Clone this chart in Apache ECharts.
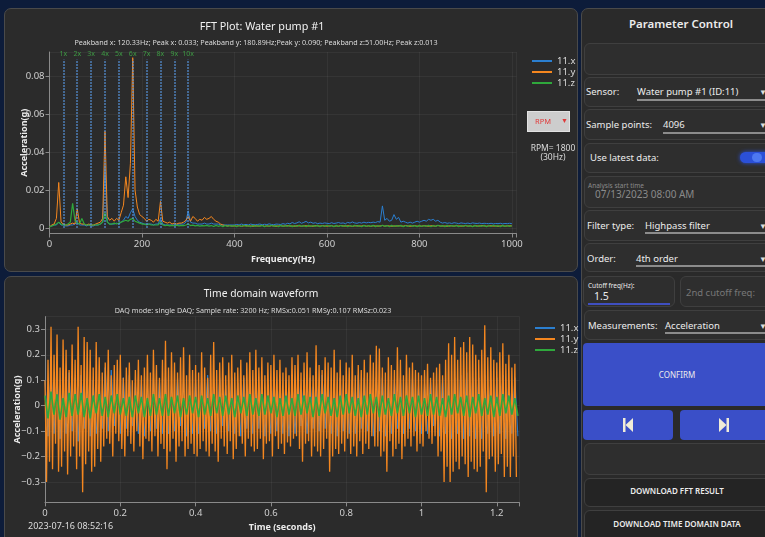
<!DOCTYPE html>
<html><head><meta charset="utf-8">
<script src="https://cdn.jsdelivr.net/npm/echarts@6/dist/echarts.min.js"></script>
<style>
html,body{margin:0;padding:0;}
body{width:765px;height:537px;overflow:hidden;background:#0d1c3a;position:relative;font-family:"Noto Sans",sans-serif;color:#ececec;}
.card{position:absolute;background:#2b2b2b;border:1px solid #4a4a4a;border-radius:7px;box-sizing:border-box;}
.box{position:absolute;background:#2e2e2e;border:1px solid #3f3f3f;border-radius:6px;box-sizing:border-box;}
.lbl{position:absolute;font-size:9.5px;color:#ececec;white-space:nowrap;line-height:12px;}
.ul{position:absolute;height:1.5px;background:#8c8c8c;}
.btn{position:absolute;background:#3a4fc8;border-radius:4px;box-sizing:border-box;}
.arr{position:absolute;font-size:8px;color:#ddd;line-height:10px;}
#chart{position:absolute;left:0;top:0;width:580px;height:537px;z-index:2;}
.top{z-index:3;}
</style></head>
<body>
<div class="card" style="left:4px;top:8px;width:574px;height:264px;"></div>
<div class="card" style="left:4px;top:276px;width:574px;height:270px;"></div>
<div class="card" style="left:581px;top:8px;width:200px;height:540px;background:#2a2a2a;"></div>

<div class="lbl" style="left:581px;top:18px;width:200px;text-align:center;font-size:11.5px;font-weight:600;">Parameter Control</div>
<div class="box" style="left:584px;top:43px;width:190px;height:32px;"></div>

<div class="box" style="left:584px;top:77px;width:190px;height:30px;"></div>
<div class="lbl" style="left:586px;top:86px;">Sensor:</div>
<div class="lbl" style="left:637px;top:86px;">Water pump #1 (ID:11)</div>
<div class="ul" style="left:637px;top:99px;width:140px;"></div>
<div class="arr" style="left:759px;top:87px;">▼</div>

<div class="box" style="left:584px;top:109px;width:190px;height:31px;"></div>
<div class="lbl" style="left:586px;top:119px;">Sample points:</div>
<div class="lbl" style="left:663px;top:119px;">4096</div>
<div class="ul" style="left:663px;top:132px;width:120px;"></div>
<div class="arr" style="left:759px;top:120px;">▼</div>

<div class="box" style="left:584px;top:143px;width:190px;height:30px;"></div>
<div class="lbl" style="left:590px;top:152px;">Use latest data:</div>
<div style="position:absolute;left:740px;top:152px;width:32px;height:11px;border-radius:6px;background:#2b50d8;box-shadow:0 0 4px #2b50d8;"></div>
<div style="position:absolute;left:752px;top:153px;width:10px;height:9px;border-radius:5px;background:#4d78f0;"></div>

<div class="box" style="left:584px;top:176px;width:190px;height:32px;"></div>
<div class="lbl" style="left:588px;top:180px;font-size:6.5px;color:#8a8a8a;">Analysis start time</div>
<div class="lbl" style="left:595px;top:188px;font-size:10px;color:#8a8a8a;">07/13/2023 08:00 AM</div>

<div class="box" style="left:584px;top:210px;width:190px;height:31px;"></div>
<div class="lbl" style="left:587px;top:220px;">Filter type:</div>
<div class="lbl" style="left:645px;top:220px;">Highpass filter</div>
<div class="ul" style="left:645px;top:232px;width:130px;"></div>
<div class="arr" style="left:759px;top:221px;">▼</div>

<div class="box" style="left:584px;top:243px;width:190px;height:29px;"></div>
<div class="lbl" style="left:587px;top:253px;">Order:</div>
<div class="lbl" style="left:636px;top:253px;">4th order</div>
<div class="ul" style="left:636px;top:265px;width:140px;"></div>
<div class="arr" style="left:759px;top:254px;">▼</div>

<div class="box" style="left:583px;top:276px;width:92px;height:31px;"></div>
<div class="lbl" style="left:588px;top:280px;font-size:6.5px;">Cutoff freq(Hz):</div>
<div class="lbl" style="left:594px;top:290px;font-size:10.5px;">1.5</div>
<div style="position:absolute;left:588px;top:303px;width:82px;height:1.5px;background:#3f4fc0;"></div>
<div class="box" style="left:680px;top:276px;width:100px;height:31px;"></div>
<div class="lbl" style="left:686px;top:287px;color:#777;">2nd cutoff freq:</div>

<div class="box" style="left:584px;top:310px;width:190px;height:30px;"></div>
<div class="lbl" style="left:588px;top:320px;">Measurements:</div>
<div class="lbl" style="left:665px;top:320px;">Acceleration</div>
<div class="ul" style="left:665px;top:332px;width:120px;"></div>
<div class="arr" style="left:759px;top:321px;">▼</div>

<div class="btn" style="left:583px;top:343px;width:190px;height:63px;"></div>
<div class="lbl" style="left:583px;top:369px;width:188px;text-align:center;font-size:8px;">CONFIRM</div>

<div class="btn" style="left:583px;top:410px;width:90px;height:30px;"></div>
<svg style="position:absolute;left:623px;top:418px;" width="10" height="14" viewBox="0 0 10 14"><rect x="0" y="0" width="2.5" height="14" fill="#f0ecd8"/><polygon points="10,0 2.5,7 10,14" fill="#f0ecd8"/></svg>
<div class="btn" style="left:680px;top:410px;width:100px;height:30px;"></div>
<svg style="position:absolute;left:719px;top:418px;" width="10" height="14" viewBox="0 0 10 14"><polygon points="0,0 7.5,7 0,14" fill="#f0ecd8"/><rect x="7.5" y="0" width="2.5" height="14" fill="#f0ecd8"/></svg>

<div class="box" style="left:584px;top:443px;width:190px;height:32px;"></div>
<div class="box" style="left:584px;top:478px;width:190px;height:29px;background:#242424;"></div>
<div class="lbl" style="left:584px;top:485px;width:186px;text-align:center;font-size:8px;font-weight:600;">DOWNLOAD FFT RESULT</div>
<div class="box" style="left:584px;top:510px;width:190px;height:32px;background:#242424;"></div>
<div class="lbl" style="left:584px;top:518px;width:186px;text-align:center;font-size:8px;font-weight:600;">DOWNLOAD TIME DOMAIN DATA</div>

<div id="chart"></div>

<div class="top" style="position:absolute;left:527px;top:111px;width:43px;height:21px;background:#cdcdcd;border:1px solid #e2e2e2;box-sizing:border-box;"></div>
<div class="lbl top" style="left:535px;top:115px;font-size:7.5px;color:#e03a3a;">RPM</div>
<div class="lbl top" style="left:561px;top:115px;font-size:7px;color:#e03a3a;">▼</div>
<div class="lbl top" style="left:520px;top:142px;width:66px;text-align:center;font-size:8.5px;color:#dcdcdc;">RPM= 1800</div>
<div class="lbl top" style="left:520px;top:151px;width:66px;text-align:center;font-size:8.5px;color:#dcdcdc;">(30Hz)</div>

<script>
// ---------- FFT data (amplitude in milli-g, one value every 5 Hz, 0..1000 Hz) ----------
const fftStepHz = 5;
const fftX_mg = [
 0.5,1,1.5,1.5,3,1.5,1.5,1,1,1.5,
 1.5,2,3,1.5,1.5,1.5,1,1.5,1,1,
 1.5,1.5,2,3,33,3,2,2,2,2.5,
 2,3,4,6,5,8,10,6,4,3,
 2.5,2,2,2,2,1.5,2,2,5,2,
 1.5,1.5,1.5,1.5,1.5,1.5,2,2,2,3,
 9,3,2.5,2.5,2,2,2,2.5,2,2,
 2.5,2,2,2,1.5,1.5,1.5,1.5,1.5,1.5,
 1.5,1.8,1.5,2,1.6,1.8,1.5,2,1.7,1.6,
 1.8,2,1.6,1.9,1.7,2.1,1.8,1.6,2,1.9,
 1.8,2.2,1.9,2.4,2.1,2.8,2.3,2.6,3.2,2.4,
 2.9,3.4,2.6,3,2.4,2.7,2.2,2.5,2.3,2.6,
 2.4,2.2,2.7,2.3,2.5,2.8,2.4,2.6,2.2,2.9,
 2.5,3.1,2.6,2.4,2.8,2.5,3,2.6,2.9,2.7,
 3,2.8,3.3,3,11.6,4,5,3.5,4,7,
 4.5,5.5,3,3.5,3,2.5,3,2.5,3,3.5,
 3,3.5,4,3.5,4.5,4,4.5,3.5,4,3,
 2.5,2.8,2.4,2.6,2.3,2.7,2.5,2.2,2.6,2.4,
 2.3,2.5,2.2,2.6,2.4,2.3,2.5,2.2,2.4,2.3,
 2.2,2.4,2.1,2.3,2.2,2.4,2.1,2.3,2.2,2.4,
 2.2];
const fftY_mg = [
 0.5,1.5,2,5,24,3,2,1.5,1.5,2,
 2.5,2,10,2.5,2,2,1.5,2,1.5,1.5,
 2,2.5,3,5,51,6,4,5,3.5,5,
 4,8,12,27,16,34,90,20,11,7,
 6,5,3.5,4.5,4,3,4.5,3.5,14,3.5,
 3,2.5,3,2,2.5,2,2.5,2.5,3,4,
 6,3.5,6,5,3.5,4.5,4,5.5,4.5,5,
 6,4.5,3.5,3,2,1.5,1.2,1,1.1,0.9,
 1,0.9,1.1,0.8,1,1.2,0.9,1,0.8,1.1,
 0.9,1,1.2,0.8,1,0.9,1.1,1,0.8,1,
 1.1,0.9,1,1.2,0.9,1,0.8,1.1,1,0.9,
 1,1.1,0.9,1,0.8,1.2,1,0.9,1.1,1,
 0.9,1,1.1,0.8,1,0.9,1.2,1,0.9,1.1,
 1,0.8,1,1.1,0.9,1,1.2,0.9,1,0.8,
 1.1,1,0.9,1,1.2,0.9,1.1,1,0.8,1,
 0.9,1.1,1,0.9,1.2,1,0.8,1,1.1,0.9,
 1,0.9,1.1,1,0.8,1.1,1,0.9,1.2,1,
 0.9,1,0.8,1.1,1,0.9,1.1,1,0.9,1,
 1.1,0.9,1,0.8,1.1,1,0.9,1.2,1,0.9,
 1,1.1,0.9,1,0.8,1,1.1,0.9,1,1.1,
 1];
const fftZ_mg = [
 0.5,1,1.5,2,3,2,1.5,1.5,2,3,
 13,4,2.5,2,5,2,1.5,1.5,1.5,1.5,
 1.5,1.5,2,3,8,3,2,2,2.5,2,
 2.5,3,3.5,4,3.5,4.5,5,3.5,3,2.5,
 2,2,1.5,2,1.5,1.5,1.5,1.5,3,1.5,
 1.2,1.4,1,1.3,1.1,1.4,1,1.3,1.2,1.5,
 2,1.2,1.4,1,1.3,0.9,1.2,1,1.3,0.9,
 1.2,0.7,1.3,0.8,1.2,0.6,1.3,0.7,1.2,0.8,
 1.3,0.6,1.2,0.7,1.4,0.8,1.2,0.6,1.3,0.7,
 1.2,0.8,1.3,0.6,1.2,0.7,1.4,0.8,1.2,0.6,
 1.3,0.7,1.2,0.8,1.3,0.6,1.2,0.7,1.4,0.8,
 1.2,0.6,1.3,0.7,1.2,0.8,1.3,0.6,1.2,0.7,
 1.4,0.8,1.2,0.6,1.3,0.7,1.2,0.8,1.3,0.6,
 1.2,0.7,1.4,0.8,1.2,0.6,1.3,0.7,1.2,0.8,
 1.3,0.6,1.2,0.7,1.4,0.8,1.2,0.6,1.3,0.7,
 1.2,0.8,1.3,0.6,1.2,0.7,1.4,0.8,1.2,0.6,
 1.3,0.7,1.2,0.8,1.3,0.6,1.2,0.7,1.4,0.8,
 1.2,0.6,1.3,0.7,1.2,0.8,1.3,0.6,1.2,0.7,
 1.4,0.8,1.2,0.6,1.3,0.7,1.2,0.8,1.3,0.6,
 1.2,0.7,1.4,0.8,1.2,0.6,1.3,0.7,1.2,0.8,
 1.1];
const harmonicsHz = [30,60,90,120,150,180,210,240,270,300];
const harmonicLabels = ['1x','2x','3x','4x','5x','6x','7x','8x','9x','10x'];

// ---------- Time-domain data (milli-g) ----------
const stepY_s = 0.004;   // orange series sample spacing
const stepXZ_s = 0.008;  // blue / green series sample spacing
const timeY_mg = [
 100,-300,180,-220,310,-250,200,-150,280,-260,
 150,-240,260,-180,220,-270,140,-200,240,-160,
 180,-250,310,-200,160,-340,270,-230,250,-180,
 220,-260,150,-240,250,-170,190,-220,130,-160,
 170,-130,220,-150,120,-200,160,-110,180,-140,
 200,-170,110,-200,150,-120,170,-150,100,-180,
 140,-100,180,-160,120,-210,150,-130,200,-140,
 130,-180,220,-120,160,-200,110,-150,180,-170,
 255,-250,150,-180,210,-130,170,-220,130,-160,
 190,-140,230,-200,120,-170,200,-150,140,-190,
 160,-200,130,-170,210,-140,150,-180,110,-200,
 200,-150,250,-180,140,-220,170,-130,190,-160,
 120,-190,170,-140,200,-210,130,-170,150,-120,
 180,-150,120,-200,170,-130,210,-160,140,-180,
 220,-170,150,-130,190,-210,120,-150,170,-140,
 160,-200,200,-120,140,-170,180,-150,130,-190,
 150,-145,120,-160,190,-130,160,-120,200,-170,
 130,-220,170,-150,210,-140,150,-200,120,-160,
 237,-180,160,-200,140,-170,190,-130,170,-260,
 150,-200,220,-170,130,-190,180,-150,120,-180,
 170,-130,150,-190,200,-160,120,-200,160,-140,
 140,-190,180,-150,130,-170,200,-120,170,-160,
 235,-160,225,-200,150,-180,130,-260,190,-140,
 160,-200,140,-170,230,-150,180,-210,120,-160,
 200,-130,150,-160,170,-120,140,-180,130,-150,
 120,-160,140,-100,165,-130,110,-150,130,-120,
 150,-200,165,-180,120,-300,180,-240,245,-300,
 200,-260,270,-220,180,-250,230,-200,250,-230,
 210,-280,270,-220,240,-250,200,-260,180,-240,
 220,-180,316,-340,190,-210,230,-200,180,-260,
 170,-230,210,-190,245,-280,165,-240,200,-280,
 150,-200,165,-280];
const timeX_mg = [
 100,-120,140,-110,120,-130,90,-110,130,-100,
 110,-140,120,-90,110,-120,100,-110,80,-90,
 150,-100,140,-80,100,-110,110,-90,120,-80,
 90,-110,100,-120,80,-100,110,-90,100,-110,
 120,-110,90,-100,110,-80,100,-120,90,-110,
 100,-110,110,-90,120,-100,90,-110,110,-80,
 80,-100,110,-110,90,-120,110,-90,100,-110,
 110,-90,100,-120,80,-110,110,-100,90,-110,
 100,-120,90,-110,110,-80,100,-110,110,-90,
 110,-100,120,-90,100,-110,80,-120,110,-100,
 90,-110,100,-110,120,-90,110,-100,90,-120,
 110,-100,110,-120,90,-110,100,-90,110,-110,
 100,-90,110,-100,80,-110,90,-110,100,-80,
 90,-120,110,-110,100,-130,110,-110,120,-130,
 130,-120,110,-130,110,-130,120,-110,100,-120,
 110,-110,120,-130,100,-110,110,-120];
const timeZ_mg = [
 40,-50,55,-35,45,-55,30,-45,50,-40,
 45,-35,50,-45,30,-50,40,-30,45,-40,
 35,-45,40,-30,45,-35,30,-40,35,-45,
 40,-30,35,-45,30,-40,45,-35,30,-40,
 45,-40,35,-30,40,-45,30,-35,40,-30,
 35,-45,40,-35,30,-40,45,-30,35,-40,
 40,-35,30,-45,40,-30,35,-40,45,-35,
 30,-40,45,-35,40,-30,35,-45,30,-40,
 40,-35,30,-40,45,-35,40,-30,35,-45,
 35,-40,45,-30,35,-40,30,-45,40,-35,
 45,-30,35,-40,30,-45,40,-35,45,-30,
 35,-45,40,-35,30,-40,45,-30,35,-40,
 40,-30,35,-45,40,-35,30,-40,45,-35,
 35,-40,30,-45,40,-35,45,-30,35,-40,
 40,-45,35,-30,45,-40,30,-35,40,-45,
 35,-40,45,-30,40,-35,30,-40];

const COLORS = {x:'#2b7fd0', y:'#f5871f', z:'#2fa83c'};
const FONT = '"Noto Sans", sans-serif';

function toPairs(arr, step){ return arr.map((v,i)=>[i*step, v/1000]); }
function isMult(v, s){ const k=v/s; return Math.abs(k-Math.round(k))<1e-6; }

const chart = echarts.init(document.getElementById('chart'));
const axisCommon = {
  axisLine:{onZero:false, lineStyle:{color:'#8a8a8a', width:1}},
  axisTick:{show:true, length:4, lineStyle:{color:'#8a8a8a'}},
  splitLine:{show:true, lineStyle:{color:'rgba(255,255,255,0.05)'}},
  nameMoveOverlap:false,
  nameTextStyle:{color:'#ececec', fontSize:9, fontWeight:'bold', fontFamily:FONT},
};
const labelCommon = {color:'#cfcfcf', fontSize:9.5, fontFamily:FONT};

const markLineData = harmonicsHz.map((f,i)=>[
  {coord:[f,0]},
  {coord:[f,0.089], label:{formatter:harmonicLabels[i]}}
]);

const legendCommon = {data:['11.x','11.y','11.z'], orient:'vertical', icon:'rect', itemWidth:20, itemHeight:2, itemGap:1,
  textStyle:{color:'#dcdcdc', fontSize:9.5, fontFamily:FONT, padding:[0,0,0,0]}, selectedMode:false};

const option = {
  backgroundColor:'transparent',
  animation:false,
  textStyle:{fontFamily:FONT},
  grid:[
    {left:49.5, top:52, width:467, height:181.5},
    {left:45, top:316.6, width:474.4, height:185.8}
  ],
  xAxis:[
    Object.assign({}, axisCommon, {type:'value', gridIndex:0, min:0, max:1010, interval:200,
      name:'Frequency(Hz)', nameLocation:'middle', nameGap:21,
      axisLabel:Object.assign({}, labelCommon, {margin:6, formatter:v=>isMult(v,200)?String(v):''})}),
    Object.assign({}, axisCommon, {type:'value', gridIndex:1, min:0, max:1.26, interval:0.2,
      name:'Time (seconds)', nameLocation:'middle', nameGap:21,
      axisLabel:Object.assign({}, labelCommon, {margin:6, formatter:v=>isMult(v,0.2)?String(+v.toFixed(1)):''})})
  ],
  yAxis:[
    Object.assign({}, axisCommon, {type:'value', gridIndex:0, min:-0.003, max:0.093, minInterval:0.02, maxInterval:0.02,
      name:'Acceleration(g)', nameLocation:'middle', nameGap:21,
      axisLabel:Object.assign({}, labelCommon, {margin:5, showMinLabel:false, showMaxLabel:false,
        formatter:v=>isMult(v,0.02)?String(+v.toFixed(2)):''})}),
    Object.assign({}, axisCommon, {type:'value', gridIndex:1, min:-0.38, max:0.35, minInterval:0.1, maxInterval:0.1,
      name:'Acceleration(g)', nameLocation:'middle', nameGap:23,
      axisLabel:Object.assign({}, labelCommon, {margin:5, showMinLabel:false, showMaxLabel:false,
        formatter:v=>isMult(v,0.1)?String(+v.toFixed(1)).replace('-','\u2212'):''})})
  ],
  legend:[
    Object.assign({}, legendCommon, {left:527, top:51}),
    Object.assign({}, legendCommon, {left:530, top:318})
  ],
  graphic:[
    {type:'text', x:262, y:27, style:{text:'FFT Plot: Water pump #1', fill:'#f2f2f2', fontSize:10.8, fontFamily:FONT, align:'center', verticalAlign:'middle', textAlign:'center', textVerticalAlign:'middle'}},
    {type:'text', x:256, y:43, style:{text:'Peakband x: 120.33Hz; Peak x: 0.033; Peakband y: 180.89Hz;Peak y: 0.090; Peakband z:51.00Hz; Peak z:0.013', fill:'#dadada', fontSize:7.2, fontFamily:FONT, align:'center', verticalAlign:'middle', textAlign:'center', textVerticalAlign:'middle'}},
    {type:'text', x:261, y:294, style:{text:'Time domain waveform', fill:'#f2f2f2', fontSize:10.3, fontFamily:FONT, align:'center', verticalAlign:'middle', textAlign:'center', textVerticalAlign:'middle'}},
    {type:'text', x:253, y:311, style:{text:'DAQ mode: single DAQ; Sample rate: 3200 Hz; RMSx:0.051 RMSy:0.107 RMSz:0.023', fill:'#dadada', fontSize:7.2, fontFamily:FONT, align:'center', verticalAlign:'middle', textAlign:'center', textVerticalAlign:'middle'}},
    {type:'text', x:28, y:526, style:{text:'2023-07-16 08:52:16', fill:'#dcdcdc', fontSize:9, fontFamily:FONT, align:'left', verticalAlign:'middle', textAlign:'left', textVerticalAlign:'middle'}}
  ],
  series:[
    {name:'11.x', type:'line', xAxisIndex:0, yAxisIndex:0, data:toPairs(fftX_mg, fftStepHz), symbol:'none', showSymbol:false,
     lineStyle:{width:1, color:COLORS.x}, itemStyle:{color:COLORS.x}, silent:true,
     markLine:{silent:true, symbol:['none','none'], animation:false,
       lineStyle:{type:[1.5,1.5], color:'#5a9be6', width:1.5},
       label:{show:true, position:'end', color:'#3e9a44', fontSize:7, distance:2, fontFamily:FONT},
       data:markLineData}},
    {name:'11.y', type:'line', xAxisIndex:0, yAxisIndex:0, data:toPairs(fftY_mg, fftStepHz), symbol:'none', showSymbol:false,
     lineStyle:{width:1, color:COLORS.y}, itemStyle:{color:COLORS.y}, silent:true},
    {name:'11.z', type:'line', xAxisIndex:0, yAxisIndex:0, data:toPairs(fftZ_mg, fftStepHz), symbol:'none', showSymbol:false,
     lineStyle:{width:1.2, color:COLORS.z}, itemStyle:{color:COLORS.z}, silent:true},
    {name:'11.x', type:'line', xAxisIndex:1, yAxisIndex:1, data:toPairs(timeX_mg, stepXZ_s), symbol:'none', showSymbol:false,
     lineStyle:{width:1, color:COLORS.x}, itemStyle:{color:COLORS.x}, silent:true},
    {name:'11.y', type:'line', xAxisIndex:1, yAxisIndex:1, data:toPairs(timeY_mg, stepY_s), symbol:'none', showSymbol:false,
     lineStyle:{width:1.3, color:COLORS.y}, itemStyle:{color:COLORS.y}, silent:true},
    {name:'11.z', type:'line', xAxisIndex:1, yAxisIndex:1, data:toPairs(timeZ_mg, stepXZ_s), symbol:'none', showSymbol:false,
     lineStyle:{width:1.6, color:COLORS.z}, itemStyle:{color:COLORS.z}, silent:true}
  ]
};
chart.setOption(option);
</script>
</body></html>
